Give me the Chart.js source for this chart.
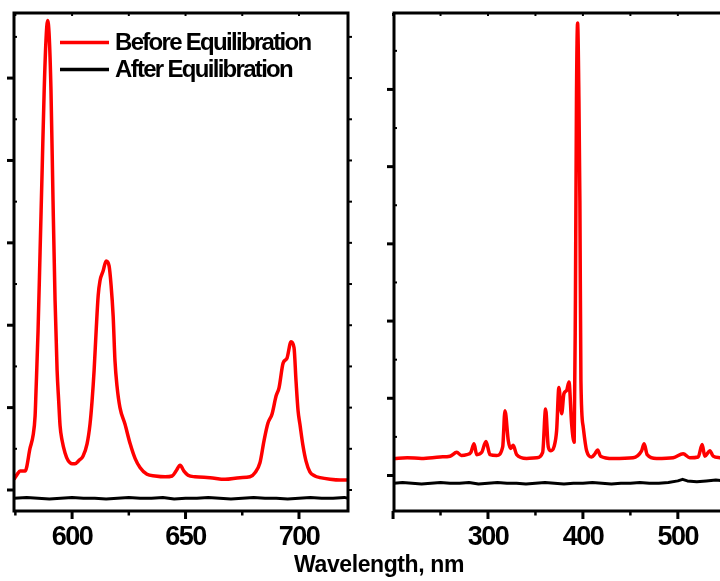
<!DOCTYPE html>
<html>
<head>
<meta charset="utf-8">
<script src="https://cdn.jsdelivr.net/npm/chart.js@4.4.0/dist/chart.umd.min.js"></script>
<style>
  html, body { margin: 0; padding: 0; background: #fff; overflow: hidden; }
  #page { position: relative; width: 720px; height: 581px; overflow: hidden; background: #fff; }
  #leftChart { position: absolute; left: 0; top: 0; }
  #rightChart { position: absolute; left: 360px; top: 0; }
  #xTitle {
    position: absolute; left: 0; top: 553px; width: 758px; text-align: center;
    font: bold 23px/23px "Liberation Sans", Arial, sans-serif; letter-spacing: -0.4px; color: #000;
  }
</style>
</head>
<body>
<div id="page">
  <canvas id="leftChart" width="360" height="581"></canvas>
  <canvas id="rightChart" width="400" height="581"></canvas>
  <div id="xTitle">Wavelength, nm</div>
</div>
<script>
// emission spectrum (left panel)
var leftTicks = [600, 650, 700];
var leftRedX = [
  574.4, 575.8, 577.1, 579.3, 581.5, 582.8, 583.7, 584.1, 585.0, 585.9,
  586.8, 587.7, 588.5, 589.2, 589.9, 590.7, 591.6, 592.5, 593.4, 594.1,
  594.7, 595.6, 596.9, 598.2, 600.0, 601.3, 603.1, 604.8, 606.6, 607.9,
  608.8, 609.7, 610.6, 611.5, 612.3, 613.7, 615.0, 616.3, 617.2, 618.1,
  618.9, 619.8, 621.1, 623.3, 625.6, 627.8, 630.0, 633.0, 636.6, 641.0,
  644.1, 645.8, 647.6, 649.3, 651.1, 654.2, 660.8, 667.4, 674.0, 678.4,
  680.6, 682.8, 684.6, 686.3, 688.1, 689.9, 691.2, 693.0, 694.7, 696.5,
  697.8, 698.7, 699.6, 700.4, 701.8, 703.1, 704.8, 707.0, 709.3, 713.7,
  718.1, 721.6
];
var leftRedY = [
  0.13, 0.19, 0.23, 0.23, 0.51, 0.66, 0.90, 1.20, 1.93, 2.90,
  3.88, 4.85, 5.46, 5.70, 5.52, 4.85, 3.51, 2.30, 1.45, 1.08,
  0.78, 0.60, 0.45, 0.36, 0.32, 0.32, 0.36, 0.41, 0.56, 0.80,
  1.08, 1.45, 1.93, 2.36, 2.54, 2.66, 2.78, 2.72, 2.48, 2.11,
  1.57, 1.26, 1.00, 0.80, 0.56, 0.38, 0.27, 0.19, 0.17, 0.16,
  0.17, 0.23, 0.30, 0.23, 0.18, 0.16, 0.15, 0.13, 0.15, 0.16,
  0.21, 0.33, 0.60, 0.81, 0.92, 1.14, 1.24, 1.54, 1.60, 1.80,
  1.73, 1.32, 0.96, 0.80, 0.53, 0.35, 0.22, 0.17, 0.15, 0.13,
  0.12, 0.12
];
var leftBlackX = [
  574.4, 580, 585, 590, 595, 600, 605, 610, 615, 620,
  625, 630, 635, 640, 645, 650, 655, 660, 665, 670,
  675, 680, 685, 690, 695, 700, 705, 710, 715, 720, 721.6
];
var leftBlackY = [
  -0.10, -0.09, -0.10, -0.11, -0.10, -0.09, -0.10, -0.10, -0.11, -0.10,
  -0.09, -0.10, -0.10, -0.09, -0.11, -0.10, -0.10, -0.09, -0.10, -0.11,
  -0.10, -0.09, -0.10, -0.10, -0.11, -0.10, -0.09, -0.10, -0.10, -0.09, -0.10
];

// excitation spectrum (right panel)
var rightTicks = [300, 400, 500];
var rightRedX = [
  201, 215, 230, 249.5, 260, 267.1, 272, 277.6, 282, 285.3,
  288.1, 293.4, 297.9, 302.1, 309.2, 315.5, 317.9, 321.4, 323.9, 326.6,
  330.2, 340.7, 351.3, 357.6, 360.7, 363.5, 366.3, 369.5, 372.3, 374.7,
  377.6, 380.0, 382.8, 385.3, 388.1, 390.8, 392.1, 393.2, 394.4, 395.8,
  396.8, 397.9, 400.3, 403.9, 409.2, 412.6, 415.5, 418.6, 431.9, 452.9,
  461.8, 464.5, 467.7, 477.6, 495.1, 505.6, 512.6, 521.4, 525.6, 528.4,
  533.7, 537.2, 544.2, 555, 565, 576
];
var rightRedY = [
  0.22, 0.23, 0.22, 0.24, 0.25, 0.30, 0.26, 0.27, 0.30, 0.41,
  0.27, 0.30, 0.44, 0.27, 0.26, 0.37, 0.84, 0.45, 0.35, 0.39,
  0.27, 0.22, 0.23, 0.30, 0.86, 0.37, 0.32, 0.37, 0.58, 1.14,
  0.80, 1.06, 1.10, 1.21, 0.67, 0.43, 2.27, 4.86, 5.86, 4.86,
  3.56, 1.23, 0.63, 0.32, 0.24, 0.28, 0.33, 0.25, 0.22, 0.23,
  0.32, 0.41, 0.27, 0.22, 0.23, 0.28, 0.23, 0.24, 0.40, 0.25,
  0.32, 0.25, 0.23, 0.22, 0.23, 0.22
];
var rightBlackX = [
  201, 210, 220, 230, 240, 250, 260, 270, 280, 290,
  300, 310, 320, 330, 340, 350, 360, 370, 380, 390,
  400, 410, 420, 430, 440, 450, 460, 470, 480, 490,
  500, 505, 510, 520, 530, 540, 550, 560, 570, 576
];
var rightBlackY = [
  -0.10, -0.09, -0.10, -0.11, -0.10, -0.09, -0.10, -0.10, -0.09, -0.11,
  -0.10, -0.09, -0.10, -0.10, -0.11, -0.10, -0.09, -0.10, -0.11, -0.10,
  -0.10, -0.09, -0.10, -0.11, -0.10, -0.10, -0.09, -0.10, -0.10, -0.09,
  -0.07, -0.05, -0.07, -0.08, -0.07, -0.06, -0.07, -0.06, -0.07, -0.07
];

var seriesLabels = ["Before Equilibration", "After Equilibration"];
var FONT = '"Liberation Sans", Arial, sans-serif';

function toPoints(xs, ys) {
  return xs.map(function (x, i) { return { x: x, y: ys[i] }; });
}

// frame box with outward/inward tick marks like the original plot
var framePlugin = {
  id: "frame",
  beforeDraw: function (chart) {
    chart.ctx.letterSpacing = "-1.5px";
  },
  afterDraw: function (chart, args, opts) {
    var ctx = chart.ctx, a = chart.chartArea, x = chart.scales.x, y = chart.scales.y;
    ctx.save();
    ctx.strokeStyle = "#000";
    ctx.lineCap = "butt";

    function line(x1, y1, x2, y2, w) {
      ctx.lineWidth = w;
      ctx.beginPath();
      ctx.moveTo(x1, y1);
      ctx.lineTo(x2, y2);
      ctx.stroke();
    }
    function isMajor(v, step) {
      return Math.abs(v / step - Math.round(v / step)) < 1e-6;
    }

    for (var v = opts.xStart; v <= x.max + 1e-6; v += opts.xStep / 2) {
      var px = x.getPixelForValue(v);
      if (px < a.left - 2 || px > a.right + 2) continue;
      var maj = isMajor(v, opts.xStep);
      line(px, a.bottom, px, a.bottom + (maj ? 8 : 4.5), maj ? 3 : 2.5);
      line(px, a.top, px, a.top + 3, 2);
    }
    for (var w = 0; w <= y.max + 1e-6; w += 0.5) {
      var py = y.getPixelForValue(w);
      var majY = isMajor(w, 1);
      if (majY) line(a.left, py, a.left - 7, py, 3);
      else line(a.left, py, a.left + 3, py, 2);
      if (opts.rightTicks) line(a.right, py, a.right + 4, py, 2);
    }

    ctx.lineWidth = 3;
    ctx.strokeRect(a.left, a.top, a.right - a.left, a.bottom - a.top);
    ctx.restore();
  }
};

var legendPlugin = {
  id: "spectraLegend",
  afterDraw: function (chart, args, opts) {
    if (!opts.show) return;
    var ctx = chart.ctx;
    ctx.save();
    ctx.font = "bold 24px " + FONT;
    ctx.letterSpacing = "-1.7px";
    ctx.textBaseline = "alphabetic";
    ctx.textAlign = "left";
    chart.data.datasets.forEach(function (ds, i) {
      var yy = opts.top + i * opts.gap;
      ctx.strokeStyle = ds.borderColor;
      ctx.lineWidth = 3.5;
      ctx.beginPath();
      ctx.moveTo(opts.left, yy);
      ctx.lineTo(opts.left + 49, yy);
      ctx.stroke();
      ctx.fillStyle = "#000";
      ctx.fillText(ds.label, opts.left + 55, yy + 7.5);
    });
    ctx.restore();
  }
};

function makeChart(id, cfg) {
  return new Chart(document.getElementById(id), {
    type: "line",
    data: {
      datasets: [
        {
          label: seriesLabels[0],
          data: toPoints(cfg.redX, cfg.redY),
          borderColor: "#ff0000",
          borderWidth: 3.5,
          pointRadius: 0,
          cubicInterpolationMode: "monotone",
          borderJoinStyle: "round"
        },
        {
          label: seriesLabels[1],
          data: toPoints(cfg.blackX, cfg.blackY),
          borderColor: "#000000",
          borderWidth: 3,
          pointRadius: 0,
          tension: 0,
          borderJoinStyle: "round"
        }
      ]
    },
    options: {
      responsive: false,
      animation: false,
      devicePixelRatio: 1,
      layout: { padding: cfg.padding },
      scales: {
        x: {
          type: "linear",
          min: cfg.xMin,
          max: cfg.xMax,
          afterBuildTicks: function (s) {
            s.ticks = cfg.ticks.map(function (t) { return { value: t }; });
          },
          afterFit: function (s) { s.height = 70; },
          grid: { display: false, drawTicks: false },
          border: { display: false },
          ticks: {
            font: { family: FONT, weight: "bold", size: 27 },
            color: "#000",
            padding: 10,
            maxRotation: 0,
            autoSkip: false
          }
        },
        y: { display: false, min: cfg.yMin, max: cfg.yMax }
      },
      plugins: {
        legend: { display: false },
        tooltip: { enabled: false },
        frame: { xStart: cfg.xStart, xStep: cfg.xStep, rightTicks: cfg.rightTicks },
        spectraLegend: { show: cfg.legend, left: 60, top: 42.5, gap: 27 }
      }
    },
    plugins: [framePlugin, legendPlugin]
  });
}

makeChart("leftChart", {
  redX: leftRedX, redY: leftRedY, blackX: leftBlackX, blackY: leftBlackY,
  ticks: leftTicks, xMin: 574.4, xMax: 721.6, yMin: -0.255, yMax: 5.79,
  xStart: 575, xStep: 50, rightTicks: true, legend: true,
  padding: { left: 14, right: 12, top: 13, bottom: 0 }
});

makeChart("rightChart", {
  redX: rightRedX, redY: rightRedY, blackX: rightBlackX, blackY: rightBlackY,
  ticks: rightTicks, xMin: 201, xMax: 576, yMin: -0.46, yMax: 5.99,
  xStart: 200, xStep: 100, rightTicks: false, legend: false,
  padding: { left: 34, right: 10, top: 13, bottom: 0 }
});
</script>
</body>
</html>
